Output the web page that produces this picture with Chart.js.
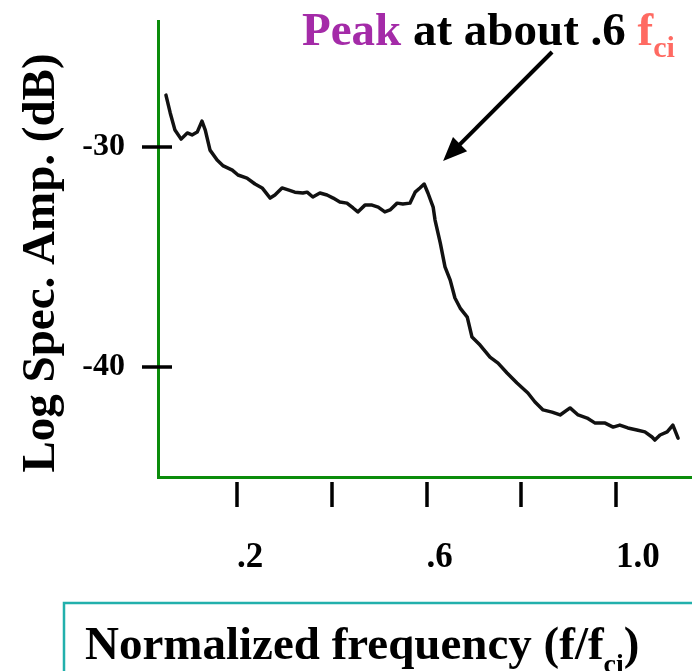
<!DOCTYPE html>
<html>
<head>
<meta charset="utf-8">
<script src="https://cdn.jsdelivr.net/npm/chart.js@4/dist/chart.umd.min.js"></script>
<style>
  html, body { margin: 0; padding: 0; background: #ffffff; }
  #wrap { width: 692px; height: 671px; position: relative; }
</style>
</head>
<body>
<div id="wrap"><canvas id="c" width="692" height="671"></canvas></div>
<script>
// Normalized frequency (f/f_ci)
const freq = [0.050, 0.059, 0.069, 0.082, 0.095, 0.105, 0.116, 0.126, 0.133, 0.143,
  0.158, 0.171, 0.190, 0.202, 0.221, 0.238, 0.253, 0.270, 0.280, 0.295,
  0.308, 0.322, 0.339, 0.348, 0.360, 0.375, 0.390, 0.403, 0.417, 0.432,
  0.445, 0.455, 0.470, 0.485, 0.498, 0.512, 0.523, 0.538, 0.550, 0.565,
  0.576, 0.586, 0.595, 0.603, 0.614, 0.618, 0.629, 0.639, 0.650, 0.660,
  0.671, 0.686, 0.696, 0.713, 0.734, 0.751, 0.770, 0.791, 0.814, 0.829,
  0.846, 0.865, 0.882, 0.903, 0.920, 0.939, 0.956, 0.977, 0.994, 1.008,
  1.025, 1.044, 1.061, 1.076, 1.082, 1.093, 1.108, 1.120, 1.131];
// Log spectral amplitude (dB)
const amp = [-27.64, -28.45, -29.23, -29.64, -29.36, -29.45, -29.32, -28.82, -29.23, -30.14,
  -30.59, -30.86, -31.05, -31.27, -31.41, -31.68, -31.86, -32.32, -32.18, -31.86,
  -31.95, -32.05, -32.09, -32.05, -32.27, -32.09, -32.18, -32.32, -32.50, -32.55,
  -32.77, -32.95, -32.64, -32.64, -32.73, -32.95, -32.86, -32.55, -32.59, -32.55,
  -32.05, -31.86, -31.68, -32.09, -32.73, -33.32, -34.36, -35.45, -36.05, -36.86,
  -37.32, -37.73, -38.64, -39.00, -39.55, -39.82, -40.27, -40.73, -41.18, -41.59,
  -41.95, -42.05, -42.18, -41.86, -42.18, -42.32, -42.55, -42.55, -42.73, -42.64,
  -42.77, -42.86, -42.95, -43.18, -43.32, -43.09, -42.95, -42.64, -43.23];

const xTickValues = [0.2, 0.4, 0.6, 0.8, 1.0];
const xTickLabels = ['.2', '', '.6', '', '1.0'];
const yTickValues = [-30, -40];
const yTickLabels = ['-30', '-40'];

// Arrow annotation (data coordinates): tail -> tip
const arrowTail = [0.865, -25.68];
const arrowTip = [0.635, -30.64];

const GREEN = '#0b8c0b';
const SERIF = '"Liberation Serif", "Times New Roman", serif';

const extras = {
  id: 'extras',
  afterDraw(chart) {
    const ctx = chart.ctx;
    const xs = chart.scales.x, ys = chart.scales.y;
    ctx.save();
    // tick marks
    ctx.strokeStyle = '#000';
    ctx.lineWidth = 3.5;
    ctx.lineCap = 'butt';
    const axX = chart.chartArea.left, axY = chart.chartArea.bottom;
    yTickValues.forEach(v => {
      const py = Math.round(ys.getPixelForValue(v));
      ctx.beginPath(); ctx.moveTo(axX - 16, py); ctx.lineTo(axX + 14, py); ctx.stroke();
    });
    xTickValues.forEach(v => {
      const px = Math.round(xs.getPixelForValue(v));
      ctx.beginPath(); ctx.moveTo(px, axY + 5); ctx.lineTo(px, axY + 30); ctx.stroke();
    });

    // arrow
    const x1 = xs.getPixelForValue(arrowTail[0]), y1 = ys.getPixelForValue(arrowTail[1]);
    const x2 = xs.getPixelForValue(arrowTip[0]), y2 = ys.getPixelForValue(arrowTip[1]);
    const ang = Math.atan2(y2 - y1, x2 - x1);
    const headLen = 24, headHalf = 10;
    const bx = x2 - headLen * Math.cos(ang), by = y2 - headLen * Math.sin(ang);
    ctx.strokeStyle = '#000';
    ctx.lineWidth = 4;
    ctx.beginPath(); ctx.moveTo(x1, y1); ctx.lineTo(bx + 2 * Math.cos(ang), by + 2 * Math.sin(ang)); ctx.stroke();
    ctx.fillStyle = '#000';
    ctx.beginPath();
    ctx.moveTo(x2, y2);
    ctx.lineTo(bx + headHalf * Math.sin(ang), by - headHalf * Math.cos(ang));
    ctx.lineTo(bx - headHalf * Math.sin(ang), by + headHalf * Math.cos(ang));
    ctx.closePath(); ctx.fill();

    // top title
    ctx.textBaseline = 'alphabetic';
    ctx.textAlign = 'left';
    ctx.font = 'bold 47px ' + SERIF;
    let x = 302;
    ctx.fillStyle = '#a42ba8';
    ctx.fillText('Peak', x, 45);
    x += ctx.measureText('Peak ').width;
    ctx.fillStyle = '#000';
    ctx.fillText('at about .6', x, 45);
    x += ctx.measureText('at about .6 ').width;
    ctx.fillStyle = '#ff6a62';
    ctx.fillText('f', x, 45);
    x += ctx.measureText('f').width;
    ctx.font = 'bold 30px ' + SERIF;
    ctx.fillText('ci', x, 57);

    // y-axis title
    ctx.save();
    ctx.translate(54, 263);
    ctx.rotate(-Math.PI / 2);
    ctx.font = 'bold 47px ' + SERIF;
    ctx.fillStyle = '#000';
    ctx.textAlign = 'center';
    ctx.fillText('Log Spec. Amp. (dB)', 0, 0);
    ctx.restore();

    // x-axis title box
    ctx.strokeStyle = '#22b0ac';
    ctx.lineWidth = 2.5;
    ctx.strokeRect(64, 603, 700, 120);
    ctx.fillStyle = '#000';
    ctx.font = 'bold 47px ' + SERIF;
    x = 85;
    ctx.fillText('Normalized frequency (f/f', x, 659);
    x += ctx.measureText('Normalized frequency (f/f').width;
    ctx.font = 'bold 28px ' + SERIF;
    ctx.fillText('ci', x, 673);
    x += ctx.measureText('ci').width;
    ctx.font = 'bold 47px ' + SERIF;
    ctx.fillText(')', x, 659);
    ctx.restore();
  }
};

new Chart(document.getElementById('c'), {
  type: 'line',
  data: {
    datasets: [{
      data: freq.map((f, i) => ({ x: f, y: amp[i] })),
      borderColor: '#111111',
      borderWidth: 3.5,
      pointRadius: 0,
      tension: 0,
      borderJoinStyle: 'round',
      borderCapStyle: 'round',
      fill: false
    }]
  },
  options: {
    responsive: false,
    animation: false,
    layout: { padding: { top: 21, right: 0, left: 0, bottom: 0 } },
    plugins: { legend: { display: false }, tooltip: { enabled: false }, title: { display: false } },
    scales: {
      x: {
        type: 'linear',
        min: 0.0332,
        max: 1.1604,
        afterFit: s => { s.height = 194; s.paddingLeft = 0; s.paddingRight = 0; s.paddingTop = 0; s.paddingBottom = 0; },
        afterBuildTicks: s => { s.ticks = xTickValues.map(v => ({ value: v })); },
        grid: { display: false, drawTicks: false },
        border: { display: true, color: GREEN, width: 3 },
        ticks: {
          align: 'start',
          padding: 60,
          color: '#000',
          font: { family: SERIF, size: 35, weight: 'bold' },
          callback: (v) => { const i = xTickValues.findIndex(t => Math.abs(t - v) < 1e-6); return i >= 0 ? xTickLabels[i] : ''; }
        }
      },
      y: {
        type: 'linear',
        min: -45.0,
        max: -24.27,
        afterFit: s => { s.width = 158; s.paddingLeft = 0; s.paddingRight = 0; s.paddingTop = 0; s.paddingBottom = 0; },
        afterBuildTicks: s => { s.ticks = yTickValues.map(v => ({ value: v })); },
        grid: { display: false, drawTicks: false },
        border: { display: true, color: GREEN, width: 3 },
        ticks: {
          padding: 33,
          color: '#000',
          font: { family: SERIF, size: 32, weight: 'bold' },
          callback: (v) => { const i = yTickValues.findIndex(t => Math.abs(t - v) < 1e-6); return i >= 0 ? yTickLabels[i] : ''; }
        }
      }
    }
  },
  plugins: [extras]
});
</script>
</body>
</html>
